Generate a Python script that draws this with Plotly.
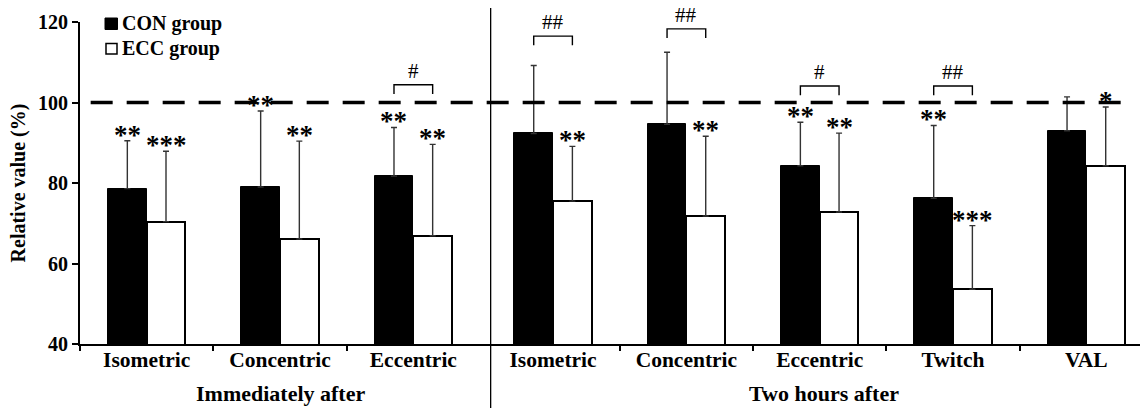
import plotly.graph_objects as go

# ---------------- data ----------------
categories = ["Isometric", "Concentric", "Eccentric",
              "Isometric", "Concentric", "Eccentric", "Twitch", "VAL"]
group_names = ["Immediately after", "Two hours after"]
group_of_cat = [0, 0, 0, 1, 1, 1, 1, 1]

con_mean = [78.6, 79.0, 81.7, 92.3, 94.6, 84.3, 76.2, 93.0]
con_sd = [11.9, 18.9, 12.1, 16.9, 17.9, 10.8, 18.1, 8.4]
ecc_mean = [70.4, 66.1, 66.9, 75.5, 71.8, 72.8, 53.6, 84.3]
ecc_sd = [17.5, 24.3, 22.7, 13.6, 19.8, 19.6, 15.8, 14.6]

con_sig = ["**", "**", "**", "", "", "**", "**", ""]
ecc_sig = ["***", "**", "**", "**", "**", "**", "***", "*"]

hash_cat = [2, 3, 4, 5, 6]
hash_label = ["#", "##", "##", "#", "##"]
hash_level = [104.4, 116.5, 118.3, 104.1, 104.1]

reference_value = 100
y_ticks = [40, 60, 80, 100, 120]

# ---------------- layout constants ----------------
W, H = 1140, 408
ML, MR, MT, MB = 80, 0, 22, 64
CAT_PX = 133.33
GROUP_GAP = 0.048
BAR_W = 0.29
X_MAX = (W - ML - MR) / CAT_PX

FONT = "Liberation Serif"


def px_x(px):
    return (px - ML) / (W - ML - MR)


def px_y(py):
    return (H - MB - py) / (H - MT - MB)


centers = [i + 0.5 + group_of_cat[i] * GROUP_GAP for i in range(len(categories))]
x_con = [c - BAR_W / 2 for c in centers]
x_ecc = [c + BAR_W / 2 for c in centers]

fig = go.Figure()
err_style = dict(type="data", symmetric=False, color="#333333", thickness=1.4, width=3)
fig.add_trace(go.Bar(
    x=x_con, y=con_mean, width=BAR_W, name="CON group",
    marker=dict(color="black", line=dict(color="black", width=1)),
    error_y=dict(array=con_sd, arrayminus=[0] * len(con_sd), **err_style),
))
fig.add_trace(go.Bar(
    x=x_ecc, y=ecc_mean, width=BAR_W, name="ECC group",
    marker=dict(color="white", line=dict(color="black", width=2)),
    error_y=dict(array=ecc_sd, arrayminus=[0] * len(ecc_sd), **err_style),
))

shapes = []
annotations = []

# reference dashed line
shapes.append(dict(type="line", xref="x", yref="y", x0=0.08, x1=7.82,
                   y0=reference_value, y1=reference_value,
                   line=dict(color="black", width=3.5, dash="22px,14px")))

# separator between groups
SEP_X = 3.08
shapes.append(dict(type="line", xref="paper", yref="paper",
                   x0=SEP_X / X_MAX, x1=SEP_X / X_MAX, y0=px_y(H), y1=px_y(8),
                   line=dict(color="black", width=1.3)))

# significance stars
for xs, means, sds, sig in [(x_con, con_mean, con_sd, con_sig),
                            (x_ecc, ecc_mean, ecc_sd, ecc_sig)]:
    for x, m, s, t in zip(xs, means, sds, sig):
        if t:
            annotations.append(dict(x=x, y=m + s, xref="x", yref="y", text=f"<b>{t}</b>",
                                    showarrow=False, yanchor="middle", yshift=6,
                                    font=dict(family=FONT, size=27, color="black")))

# hash brackets
LEG = 2.3
for c, lab, lev in zip(hash_cat, hash_label, hash_level):
    xa, xb = x_con[c], x_ecc[c]
    shapes.append(dict(type="path", xref="x", yref="y",
                       path=f"M {xa},{lev - LEG} L {xa},{lev} L {xb},{lev} L {xb},{lev - LEG}",
                       line=dict(color="black", width=1.4)))
    annotations.append(dict(x=(xa + xb) / 2, y=lev, xref="x", yref="y", text=lab,
                            showarrow=False, yanchor="bottom", yshift=0,
                            font=dict(family=FONT, size=21, color="black")))

# legend
shapes.append(dict(type="rect", xref="paper", yref="paper",
                   x0=px_x(105), x1=px_x(117.5), y0=px_y(29.5), y1=px_y(18),
                   fillcolor="black", line=dict(color="black", width=1)))
shapes.append(dict(type="rect", xref="paper", yref="paper",
                   x0=px_x(106), x1=px_x(117), y0=px_y(54), y1=px_y(43.5),
                   fillcolor="white", line=dict(color="black", width=1.5)))
for name, py in [("CON group", 23.5), ("ECC group", 48)]:
    annotations.append(dict(x=px_x(120), y=px_y(py), xref="paper", yref="paper",
                            text=f"<b>{name}</b>", showarrow=False,
                            xanchor="left", yanchor="middle",
                            font=dict(family=FONT, size=20, color="black")))

# group labels
for name, cx in zip(group_names, [280, 824]):
    annotations.append(dict(x=px_x(cx), y=px_y(393), xref="paper", yref="paper",
                            text=f"<b>{name}</b>", showarrow=False,
                            xanchor="center", yanchor="middle",
                            font=dict(family=FONT, size=22, color="black")))

boundaries = [0, 1, 2] + [i + GROUP_GAP for i in range(4, 8)]

fig.update_layout(
    width=W, height=H,
    margin=dict(l=ML, r=MR, t=MT, b=MB, pad=0),
    plot_bgcolor="white", paper_bgcolor="white",
    showlegend=False, barmode="overlay", bargap=0,
    shapes=shapes, annotations=annotations,
    font=dict(family=FONT, color="black"),
    xaxis=dict(
        range=[0, X_MAX], showgrid=False, zeroline=False,
        showline=True, linecolor="black", linewidth=2,
        tickmode="array", tickvals=centers,
        ticktext=[f"<b>{c}</b>" for c in categories],
        ticks="", ticklen=0, ticklabelstandoff=-5,
        tickfont=dict(family=FONT, size=21.5, color="black"),
        minor=dict(tickmode="array", tickvals=boundaries, ticks="outside",
                   ticklen=5, tickwidth=2, tickcolor="black", showgrid=False),
    ),
    yaxis=dict(
        range=[40, 120], showgrid=False, zeroline=False,
        showline=True, linecolor="black", linewidth=2,
        tickmode="array", tickvals=y_ticks,
        ticktext=[f"<b>{v}</b>" for v in y_ticks],
        ticks="outside", ticklen=6, tickwidth=2, tickcolor="black",
        tickfont=dict(family=FONT, size=20, color="black"),
        title=dict(text="<b>Relative value (%)</b>", standoff=7,
                   font=dict(family=FONT, size=20, color="black")),
    ),
)

fig.write_html("out.html")
